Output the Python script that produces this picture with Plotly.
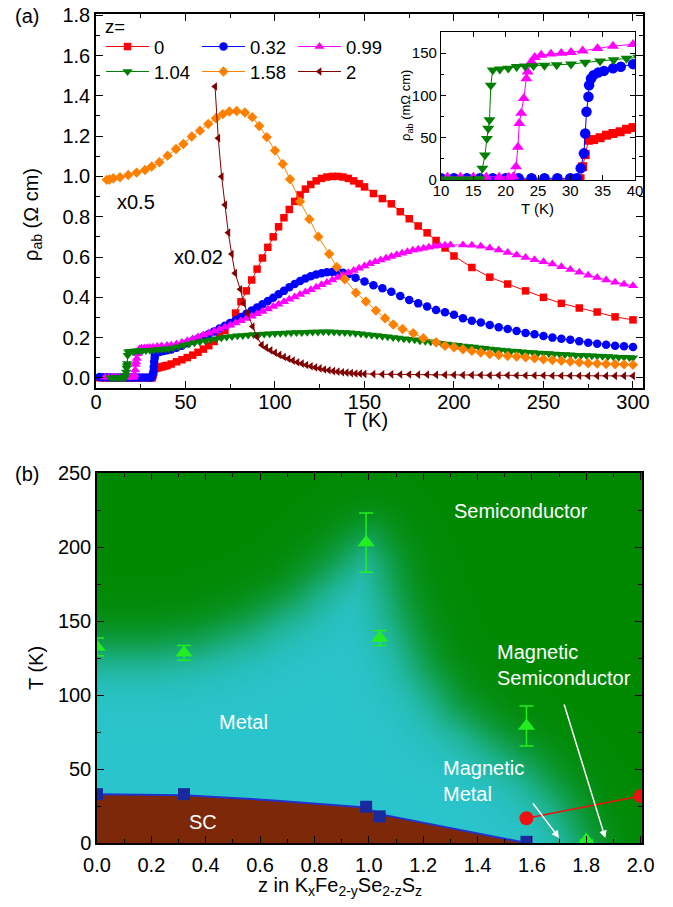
import numpy as np
import plotly.graph_objects as go

W, H = 673, 907
FONT = "Liberation Sans, Arial, sans-serif"


def px(x):
    return x / W


def py(y):
    return 1 - y / H


# ---------------- Panel (a): rho_ab (Ohm cm) vs T (K) ----------------
# z = 0
T_z0 = [2, 4, 6, 8, 10, 12, 14, 16, 18, 20, 22, 24, 26, 28, 30, 31, 31.5, 31.9, 32.3, 32.8,
        33.6, 34.6, 35.6, 36.6, 37.7, 38.7, 39.7,
        42, 45, 48, 51, 54, 57, 60, 63, 66, 69, 72, 75, 78, 81, 84, 87, 90, 93, 96, 99,
        102, 105, 108, 111, 114, 117, 120, 123, 126, 129, 132, 135, 138, 141, 144, 147, 150,
        155, 160, 165, 170, 175, 180, 185, 190, 195, 200,
        210, 220, 230, 240, 250, 260, 270, 280, 290, 300]
rho_z0 = [0.0008, 0.0008, 0.0007, 0.0007, 0.0006, 0.0006, 0.0006, 0.0006, 0.0006, 0.0006,
          0.0006, 0.0006, 0.0006, 0.0006, 0.0006, 0.0008, 0.0015, 0.0157, 0.030, 0.047,
          0.0478, 0.050, 0.053, 0.055, 0.057, 0.060, 0.062,
          0.069, 0.080, 0.090, 0.101, 0.113, 0.127, 0.143, 0.160, 0.181, 0.205,
          0.235, 0.270, 0.322, 0.378, 0.432, 0.486, 0.540, 0.595, 0.648, 0.700,
          0.750, 0.795, 0.836, 0.876, 0.908, 0.937, 0.960, 0.978, 0.990, 0.997,
          1.000, 1.000, 0.997, 0.990, 0.978, 0.964, 0.948,
          0.915, 0.890, 0.864, 0.825, 0.790, 0.754, 0.720, 0.682, 0.645, 0.605,
          0.548, 0.500, 0.466, 0.432, 0.400, 0.370, 0.347, 0.327, 0.303, 0.288]

# z = 0.32
T_z032 = [2, 4, 6, 8, 10, 12, 14, 16, 18, 20, 22, 24, 26, 28, 30, 31,
          31.6, 32.1, 32.3, 32.5, 32.8, 32.9, 33.2, 33.6, 34.3, 35.2, 36.6, 37.8, 39.7,
          42, 45, 48, 51, 54, 57, 60, 63, 66, 69, 72, 75, 78, 81, 84, 87, 90, 93, 96, 99,
          102, 105, 108, 111, 114, 117, 120, 123, 126, 129, 132, 135, 138, 141, 145,
          150, 155, 160, 165, 170, 175, 180, 185, 190, 195, 200, 205, 210, 215, 220, 225,
          230, 235, 240, 245, 250, 255, 260, 265, 270, 275, 280, 285, 290, 295, 300]
rho_z032 = [0.004, 0.003, 0.003, 0.002, 0.002, 0.002, 0.002, 0.002, 0.002, 0.002, 0.002,
            0.002, 0.002, 0.002, 0.002, 0.002,
            0.0138, 0.0315, 0.055, 0.0807, 0.0985, 0.112, 0.120, 0.124, 0.127, 0.129, 0.132,
            0.134, 0.137,
            0.141, 0.150, 0.160, 0.172, 0.184, 0.195, 0.206, 0.218, 0.231, 0.245,
            0.259, 0.273, 0.287, 0.302, 0.318, 0.334, 0.350, 0.366, 0.382, 0.398,
            0.415, 0.432, 0.450, 0.466, 0.481, 0.494, 0.505, 0.513, 0.520, 0.524,
            0.526, 0.525, 0.522, 0.515, 0.497,
            0.478, 0.460, 0.445, 0.428, 0.407, 0.387, 0.370, 0.354, 0.337, 0.326,
            0.313, 0.296, 0.284, 0.275, 0.263, 0.252, 0.243, 0.233, 0.223, 0.217,
            0.208, 0.200, 0.194, 0.189, 0.182, 0.175, 0.170, 0.165, 0.160, 0.157, 0.154]

# z = 0.99
T_z099 = [5, 7, 9, 11, 13, 15, 17, 19, 20.5, 21.2,
          21.6, 21.9, 22.1, 22.4, 22.8, 23.2, 23.4, 24, 24.5, 25.5, 27, 28.6, 30.1, 31.9,
          34.2, 36.6, 39.7,
          42, 45, 48, 51, 54, 57, 60, 63, 66, 69, 72, 75, 78, 81, 84, 87, 90, 93, 96, 99,
          102, 105, 108, 111, 114, 117, 120, 123, 126, 129, 132, 135, 138, 141, 144, 147,
          150, 153, 156, 159, 162, 165, 168, 171, 174, 177, 180, 183, 186, 189, 192, 195,
          198, 205, 210, 215, 220, 225, 230, 235, 240, 245, 250, 255, 260, 265, 270, 275,
          280, 285, 290, 295, 300]
rho_z099 = [0.0035, 0.0035, 0.0035, 0.0035, 0.0035, 0.0035, 0.0035, 0.0035, 0.0035, 0.004,
            0.0157, 0.039, 0.067, 0.079, 0.0965, 0.120, 0.128, 0.140, 0.145, 0.1477, 0.149,
            0.150, 0.151, 0.1528, 0.1555, 0.1584, 0.1604,
            0.162, 0.168, 0.176, 0.184, 0.193, 0.203, 0.213, 0.222, 0.232, 0.242,
            0.252, 0.262, 0.273, 0.284, 0.295, 0.306, 0.318, 0.330, 0.342, 0.354,
            0.366, 0.378, 0.390, 0.402, 0.414, 0.426, 0.438, 0.450, 0.462, 0.474,
            0.486, 0.498, 0.510, 0.522, 0.533, 0.544, 0.555, 0.566, 0.576, 0.585,
            0.594, 0.603, 0.611, 0.619, 0.626, 0.633, 0.639, 0.644, 0.649, 0.653,
            0.656, 0.658, 0.660,
            0.660, 0.658, 0.653, 0.645, 0.635, 0.623, 0.610, 0.598, 0.587, 0.576,
            0.565, 0.552, 0.538, 0.524, 0.510, 0.498, 0.486, 0.475, 0.465, 0.458]

# z = 1.04
T_z104 = [8, 9.5, 11, 12.5, 14, 15.5, 16,
          16.4, 16.8, 17.1, 17.3, 17.5, 17.7, 18.0, 19.1, 20.4, 21.7, 23, 24.3, 26, 27.9,
          30.1, 32.3, 34.6, 36.7, 38.7, 40.5,
          43, 46, 49, 52, 55, 58, 61, 64, 67, 70, 73, 76, 79, 82, 85, 88, 91, 94, 97, 100,
          103, 106, 109, 112, 115, 118, 121, 124, 127, 130, 133, 136, 139, 142, 145, 148,
          151, 154, 157, 160, 163, 166, 169, 172, 175, 178, 181, 184, 187, 190, 193, 196,
          199, 202, 205, 208, 211, 214, 217, 220, 223, 226, 229, 232, 235, 238, 241, 244,
          247, 250, 253, 256, 259, 262, 265, 268, 271, 274, 277, 280, 283, 286, 289, 292,
          295, 298, 300]
rho_z104 = [0.001, 0.001, 0.001, 0.001, 0.001, 0.001, 0.001,
            0.0138, 0.0295, 0.049, 0.061, 0.071, 0.112, 0.130, 0.131, 0.132, 0.134, 0.1345,
            0.135, 0.1355, 0.136, 0.137, 0.139, 0.1407, 0.142, 0.1438, 0.145,
            0.149, 0.155, 0.162, 0.168, 0.174, 0.180, 0.185, 0.190, 0.195, 0.199,
            0.203, 0.206, 0.209, 0.211, 0.213, 0.215, 0.216, 0.218, 0.219, 0.220,
            0.222, 0.223, 0.224, 0.225, 0.226, 0.227, 0.228, 0.228, 0.229, 0.229,
            0.228, 0.227, 0.226, 0.224, 0.222, 0.219, 0.216, 0.213, 0.210, 0.207,
            0.204, 0.201, 0.198, 0.195, 0.192, 0.189, 0.185, 0.182, 0.179, 0.175,
            0.172, 0.168, 0.165, 0.162, 0.159, 0.156, 0.153, 0.150, 0.147, 0.144,
            0.141, 0.139, 0.136, 0.134, 0.132, 0.130, 0.128, 0.126, 0.124, 0.122,
            0.121, 0.119, 0.117, 0.116, 0.115, 0.113, 0.112, 0.111, 0.110, 0.109,
            0.107, 0.106, 0.105, 0.103, 0.102, 0.101, 0.100]

# z = 1.58 (plotted x0.5)
T_z158 = [6, 7.5, 9.7, 13.4, 18, 22.7, 27.4, 31.1, 35.4, 40, 44.7, 48.8, 53.5, 58.1, 62.7,
          67, 70.8, 74.5, 78.6, 83.2, 87.3, 91.2, 95.4, 100, 104.3, 108.4, 114, 119.2,
          124.2, 130.3, 134.5, 139, 145.2, 150.8, 156.4, 161.5, 166.1, 171.3, 177.3, 182.9,
          190, 195, 200, 205, 210, 215, 220, 225, 230, 235, 240, 245, 250, 255, 260, 265,
          270, 275, 280, 285, 290, 295, 300]
rho_z158 = [0.983, 0.985, 0.991, 0.996, 1.007, 1.019, 1.032, 1.049, 1.07, 1.103, 1.136,
            1.161, 1.198, 1.227, 1.26, 1.289, 1.309, 1.322, 1.325, 1.317, 1.294, 1.25,
            1.195, 1.128, 1.062, 0.986, 0.875, 0.788, 0.701, 0.615, 0.55, 0.49, 0.423,
            0.379, 0.334, 0.296, 0.265, 0.243, 0.222, 0.197, 0.177, 0.16, 0.152, 0.142,
            0.134, 0.126, 0.119, 0.114, 0.109, 0.106, 0.102, 0.098, 0.093, 0.089, 0.085,
            0.081, 0.077, 0.073, 0.071, 0.069, 0.068, 0.067, 0.065]

# z = 2 (plotted x0.02)
T_z2 = [66.5, 68.3, 70.2, 72.1, 73.9, 75.8, 77.7, 80.6, 82.6, 84.7, 87.5, 89.8, 92.6, 95,
        97.5, 100, 102.5, 105, 107.5, 110, 112.5, 115, 117.5, 120, 122.5, 125, 127.5, 130,
        132.5, 135, 137.5, 140, 142.5, 145, 147.5, 150,
        155, 160, 165, 170, 175, 180, 185, 190, 195, 200, 205, 210, 215, 220, 225, 230,
        235, 240, 245, 250, 255, 260, 265, 270, 275, 280, 285, 290, 295, 300]
rho_z2 = [1.446, 1.19, 0.999, 0.859, 0.721, 0.615, 0.52, 0.44, 0.37, 0.32, 0.255, 0.205,
          0.164, 0.150, 0.137, 0.125, 0.114, 0.104, 0.095, 0.086, 0.078, 0.071, 0.064,
          0.058, 0.052, 0.047, 0.042, 0.038, 0.034, 0.031, 0.028, 0.026, 0.024, 0.022,
          0.021, 0.020,
          0.019, 0.018, 0.018, 0.017, 0.017, 0.016, 0.016, 0.015, 0.015, 0.015,
          0.014, 0.014, 0.014, 0.013, 0.013, 0.013, 0.012, 0.012, 0.012, 0.012,
          0.011, 0.011, 0.011, 0.011, 0.010, 0.010, 0.010, 0.010, 0.010, 0.010]

series_a = [
    ("0", T_z0, rho_z0, "#ff0000", "square", 7.5, "legend"),
    ("0.32", T_z032, rho_z032, "#0000ff", "circle", 8.5, "legend"),
    ("0.99", T_z099, rho_z099, "#ff00ff", "triangle-up", 9, "legend"),
    ("1.04", T_z104, rho_z104, "#007f00", "triangle-down", 9, "legend2"),
    ("1.58", T_z158, rho_z158, "#ff8000", "diamond", 8, "legend2"),
    ("2", T_z2, rho_z2, "#800000", "triangle-left", 7.5, "legend2"),
]
inset_names = ["0", "0.32", "0.99", "1.04"]
inset_sizes = {"0": 9, "0.32": 10.5, "0.99": 10.5, "1.04": 10.5}

# ---------------- Panel (b): phase diagram ----------------
Tc_z = [0.0, 0.32, 0.99, 1.04, 1.58]
Tc_T = [33, 33, 24.5, 18, 0.8]
Tc_guide_z = [0.0, 0.32, 0.65, 0.99, 1.04, 1.58]
Tc_guide_T = [33, 32.3, 28.8, 24.0, 19.5, 0]
Tmi_z = [0.0, 0.32, 0.99, 1.04, 1.58, 1.8]
Tmi_T = [132.5, 128.5, 203, 138.5, 79, 2]
Tmi_err = [6, 5, 20, 5, 13.5, 0]
Tmag_z = [1.58, 2.0]
Tmag_T = [16.7, 31.8]
# metal / semiconductor crossover used for the colour shading
bnd_z = [0.0, 0.2, 0.37, 0.55, 0.73, 0.87, 0.95, 1.0, 1.05, 1.1, 1.19, 1.3, 1.45, 1.6, 1.7,
         1.78, 1.84]
bnd_T = [130, 130, 134, 145, 163, 185, 198, 203, 190, 158, 118, 90, 68, 48, 28, 0, -40]

# ---------------- figure ----------------
fig = go.Figure()

# shaded background (panel b)
PXZ, PXT = 272.5, 1.48  # pixel scale for z and T in panel (b)
zg = np.linspace(0, 2, 201)
Tg = np.linspace(0, 250, 126)
ZX, TY = np.meshgrid(zg * PXZ, Tg * PXT)
bz = np.linspace(bnd_z[0], bnd_z[-1], 400)
bT = np.interp(bz, bnd_z, bnd_T)
dmin = np.full(ZX.shape, 1e9)
for a, b in zip(bz * PXZ, bT * PXT):
    dmin = np.minimum(dmin, np.hypot(ZX - a, TY - b))
sgn = np.where(Tg[:, None] > np.interp(zg, bnd_z, bnd_T)[None, :], 1.0, -1.0)
shade = 1.0 / (1.0 + np.exp(-sgn * dmin / 16.0))
fig.add_trace(go.Heatmap(x=zg, y=Tg, z=shade, zmin=0, zmax=1, zsmooth="best",
                         colorscale=[[0, "rgb(42,196,204)"], [1, "rgb(0,136,0)"]],
                         showscale=False, hoverinfo="skip", xaxis="x2", yaxis="y2"))
# SC dome
fig.add_trace(go.Scatter(x=Tc_guide_z, y=Tc_guide_T, mode="lines", fill="tozeroy",
                         fillcolor="rgb(125,40,8)", line=dict(color="#2233cc", width=2),
                         showlegend=False, xaxis="x2", yaxis="y2", hoverinfo="skip"))
fig.add_trace(go.Scatter(x=Tc_z, y=Tc_T, mode="markers",
                         marker=dict(symbol="square", size=12, color="#1a2a9e"),
                         showlegend=False, xaxis="x2", yaxis="y2"))
fig.add_trace(go.Scatter(x=Tmi_z, y=Tmi_T, mode="markers",
                         marker=dict(symbol="triangle-up", size=15, color="#22ee22"),
                         error_y=dict(type="data", array=Tmi_err, color="#22ee22",
                                      thickness=1.5, width=7),
                         showlegend=False, xaxis="x2", yaxis="y2"))
fig.add_trace(go.Scatter(x=Tmag_z, y=Tmag_T, mode="lines+markers",
                         marker=dict(symbol="circle", size=14, color="#ee1111"),
                         line=dict(color="#ee1111", width=1.5),
                         showlegend=False, xaxis="x2", yaxis="y2"))

# panel (a) curves
for name, T, r, col, sym, size, leg in series_a:
    fig.add_trace(go.Scatter(x=T, y=r, mode="lines+markers", name=name, legend=leg,
                             line=dict(color=col, width=1),
                             marker=dict(symbol=sym, size=size, color=col),
                             xaxis="x", yaxis="y"))
# inset
for name, T, r, col, sym, size, leg in series_a:
    if name not in inset_names:
        continue
    Ti = [t for t in T if 9.5 <= t <= 40.6]
    ri = [v * 1000 for t, v in zip(T, r) if 9.5 <= t <= 40.6]
    fig.add_trace(go.Scatter(x=Ti, y=ri, mode="lines+markers", showlegend=False,
                             line=dict(color=col, width=1),
                             marker=dict(symbol=sym, size=inset_sizes[name], color=col),
                             xaxis="x3", yaxis="y3"))

axcommon = dict(showline=True, linecolor="black", linewidth=1.5, mirror="ticks",
                ticks="inside", tickcolor="black", tickwidth=1.2, showgrid=False,
                zeroline=False, automargin=False, ticklabeloverflow="allow",
                tickfont=dict(family=FONT, size=20, color="black"))
small = dict(family=FONT, size=15, color="black")

fig.update_layout(
    template="none",
    width=W, height=H, margin=dict(l=0, r=0, t=0, b=0, pad=0), autosize=False,
    paper_bgcolor="white", plot_bgcolor="white",
    font=dict(family=FONT, color="black"),
    xaxis=dict(domain=[px(96), px(643)], range=[0, 305.6], dtick=50, ticklen=7,
               ticklabelstandoff=-5,
               minor=dict(dtick=25, ticklen=4, ticks="inside", tickcolor="black"),
               anchor="y", **axcommon),
    yaxis=dict(domain=[py(388), py(14)], range=[-0.05, 1.806], dtick=0.2, tick0=0,
               tickformat=".1f", ticklen=7,
               minor=dict(dtick=0.1, ticklen=4, ticks="inside", tickcolor="black"),
               anchor="x", **axcommon),
    xaxis2=dict(domain=[px(97), px(642)], range=[0, 2.005], dtick=0.2, tickformat=".1f",
                ticklen=7, ticklabelstandoff=3,
                minor=dict(dtick=0.1, ticklen=4, ticks="inside", tickcolor="black"),
                anchor="y2", layer="above traces", **axcommon),
    yaxis2=dict(domain=[py(843), py(473)], range=[0, 250], dtick=50, ticklen=7,
                minor=dict(dtick=25, ticklen=4, ticks="inside", tickcolor="black"),
                anchor="x2", layer="above traces", **axcommon),
    xaxis3=dict(domain=[px(441), px(635)], range=[10, 40], dtick=5, ticklen=5,
                ticklabelstandoff=-3,
                anchor="y3", **{**axcommon, "linewidth": 1.2, "tickfont": small}),
    yaxis3=dict(domain=[py(180), py(32)], range=[0, 175], dtick=50, ticklen=5,
                minor=dict(dtick=25, ticklen=3, ticks="inside", tickcolor="black"),
                anchor="x3", **{**axcommon, "linewidth": 1.2, "tickfont": small}),
    legend=dict(x=px(101), y=py(47), xanchor="left", yanchor="middle", orientation="h",
                bgcolor="rgba(0,0,0,0)", font=dict(family=FONT, size=18.5),
                itemwidth=43, entrywidth=38, tracegroupgap=0),
    legend2=dict(x=px(101), y=py(72), xanchor="left", yanchor="middle", orientation="h",
                 bgcolor="rgba(0,0,0,0)", font=dict(family=FONT, size=18.5),
                 itemwidth=43, entrywidth=38, tracegroupgap=0),
)


def ann(x, y, text, size=20, color="black", angle=0, xanchor="center", align="center"):
    fig.add_annotation(x=x, y=y, xref="paper", yref="paper", text=text, showarrow=False,
                       font=dict(family=FONT, size=size, color=color), textangle=angle,
                       xanchor=xanchor, yanchor="middle", align=align)


def annd(x, y, text, size=20, xanchor="center", align="center"):
    fig.add_annotation(x=x, y=y, xref="x2", yref="y2", text=text, showarrow=False,
                       font=dict(family=FONT, size=size, color="white"),
                       xanchor=xanchor, yanchor="middle", align=align)


ann(px(27), py(16), "(a)")
ann(px(27), py(474), "(b)")
ann(px(103), py(27), "z=", size=18.5, xanchor="left")
ann(px(136), py(202), "x0.5")
ann(px(198), py(257), "x0.02")
ann(px(366), py(420), "T (K)")
ann(px(32), py(215), "ρ<sub>ab</sub> (Ω cm)", angle=-90)
ann(px(537), py(208), "T (K)", size=15)
ann(px(407), py(106), "ρ<sub>ab</sub> (mΩ cm)", size=13, angle=-90)
ann(px(36), py(668), "T (K)", angle=-90)
ann(px(340), py(886), "z in K<sub>x</sub>Fe<sub>2-y</sub>Se<sub>2-z</sub>S<sub>z</sub>")

annd(1.558, 224, "Semiconductor")
annd(1.464, 120, "Magnetic<br>Semiconductor", xanchor="left", align="left")
annd(1.266, 42, "Magnetic<br>Metal", xanchor="left", align="left")
annd(0.54, 82, "Metal")
annd(0.39, 14, "SC")

for (xt, yt, xh, yh) in [(1.60, 27.7, 1.70, 3.4), (1.717, 94.6, 1.87, 3.4)]:
    fig.add_annotation(x=xh, y=yh, ax=xt, ay=yt, xref="x2", yref="y2", axref="x2",
                       ayref="y2", text="", showarrow=True, arrowhead=2, arrowsize=1,
                       arrowwidth=1.5, arrowcolor="white", standoff=0)

# remove the default 8 px page margin so the figure fills the window exactly
fig.write_html("out.html", config={"displayModeBar": False},
               post_script="document.body.style.margin='0px';")
